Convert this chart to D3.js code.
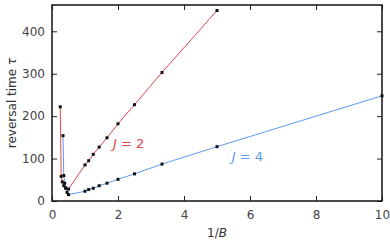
<!DOCTYPE html>
<html>
<head>
<meta charset="utf-8">
<script src="https://cdn.jsdelivr.net/npm/d3@7"></script>
<style>
  body { margin: 0; background: #fff; }
  text { font-family: "DejaVu Sans", sans-serif; }
</style>
</head>
<body>
<div class="chart"></div>
<script>
// J = 2 series (x = 1/B, y = reversal time)
var j2X = [0.25, 0.278, 0.3125, 0.357, 0.417, 0.5, 1.0, 1.111, 1.25, 1.429, 1.667, 2.0, 2.5, 3.333, 5.0];
var j2Y = [222, 58, 45, 36, 31, 28, 85, 95, 110, 127, 149, 182, 227, 303, 449];
// J = 4 series
var j4X = [0.333, 0.357, 0.385, 0.417, 0.455, 0.5, 1.0, 1.111, 1.25, 1.429, 1.667, 2.0, 2.5, 3.333, 5.0, 10.0];
var j4Y = [154, 60, 42, 30, 20, 15, 23, 27, 30, 36, 42, 51, 64, 87, 128, 248];

var xTicks = [0, 2, 4, 6, 8, 10];
var yTicks = [0, 100, 200, 300, 400];

var svgWidth = 390;
var svgHeight = 241;
var margin = {top: 5, right: 8, bottom: 40, left: 52};
var width = svgWidth - margin.left - margin.right;
var height = svgHeight - margin.top - margin.bottom;

var svg = d3.select('.chart')
  .append('svg')
  .attr('width', svgWidth)
  .attr('height', svgHeight)
  .append('g')
  .attr('transform', 'translate(' + margin.left + ',' + margin.top + ')');

var x = d3.scaleLinear().domain([0, 10]).range([0, width]);
var y = d3.scaleLinear().domain([0, 462]).range([height, 0]);

var tickColor = '#222';

// axes with inward ticks on all four sides
function styleAxis(g) {
  g.select('.domain').remove();
  g.selectAll('.tick line').attr('stroke', tickColor).attr('stroke-width', 1);
  g.selectAll('.tick text').attr('fill', '#444').style('font-size', '12px');
}

svg.append('g')
  .attr('transform', 'translate(0,' + height + ')')
  .call(d3.axisBottom(x).tickValues(xTicks).tickSizeInner(-5).tickPadding(9))
  .call(styleAxis);
svg.append('g')
  .call(d3.axisTop(x).tickValues(xTicks).tickSizeInner(-5).tickFormat(''))
  .call(styleAxis);
svg.append('g')
  .call(d3.axisLeft(y).tickValues(yTicks).tickSizeInner(-5).tickPadding(7))
  .call(styleAxis);
svg.append('g')
  .attr('transform', 'translate(' + width + ',0)')
  .call(d3.axisRight(y).tickValues(yTicks).tickSizeInner(-5).tickFormat(''))
  .call(styleAxis);

svg.append('rect')
  .attr('width', width)
  .attr('height', height)
  .attr('fill', 'none')
  .attr('stroke', '#111')
  .attr('stroke-width', 1.5);

var line = d3.line()
  .x(function(d) { return x(d[0]); })
  .y(function(d) { return y(d[1]); });

var series = [
  {xs: j2X, ys: j2Y, color: '#e0454a'},
  {xs: j4X, ys: j4Y, color: '#5b9bef'}
];

series.forEach(function(s) {
  var pts = s.xs.map(function(v, i) { return [v, s.ys[i]]; });
  svg.append('path')
    .datum(pts)
    .attr('fill', 'none')
    .attr('stroke', s.color)
    .attr('stroke-width', 1)
    .attr('d', line);
});

series.forEach(function(s) {
  var pts = s.xs.map(function(v, i) { return [v, s.ys[i]]; });
  svg.selectAll(null)
    .data(pts)
    .enter()
    .append('rect')
    .attr('x', function(d) { return x(d[0]) - 1.5; })
    .attr('y', function(d) { return y(d[1]) - 1.5; })
    .attr('width', 3)
    .attr('height', 3)
    .attr('fill', '#111');
});

// series labels
function seriesLabel(lx, ly, num, color) {
  var t = svg.append('text')
    .attr('x', x(lx))
    .attr('y', y(ly))
    .attr('fill', color)
    .style('font-size', '13px');
  t.append('tspan').style('font-style', 'italic').text('J');
  t.append('tspan').text(' = ' + num);
}
seriesLabel(1.85, 125, 2, '#e0454a');
seriesLabel(5.45, 95, 4, '#5b9bef');

// axis titles
svg.append('text')
  .attr('x', width / 2)
  .attr('y', height + 36)
  .attr('text-anchor', 'middle')
  .attr('fill', '#333')
  .style('font-size', '12px')
  .html('1/<tspan font-style="italic">B</tspan>');

var yt = svg.append('text')
  .attr('transform', 'rotate(-90)')
  .attr('x', -height / 2)
  .attr('y', -margin.left + 16)
  .attr('text-anchor', 'middle')
  .attr('fill', '#333')
  .style('font-size', '12px');
yt.append('tspan').text('reversal time ');
yt.append('tspan').style('font-style', 'italic').text('τ');
</script>
</body>
</html>
